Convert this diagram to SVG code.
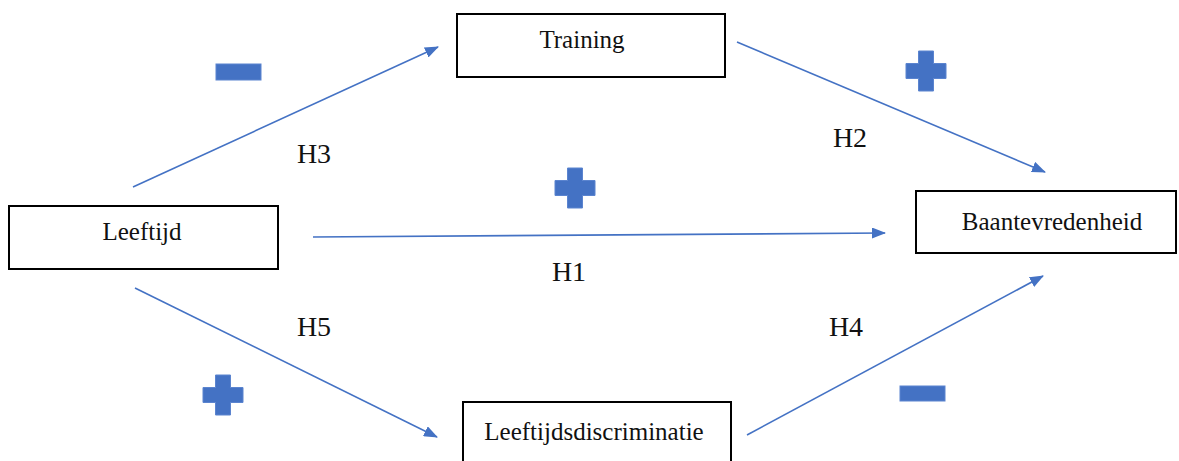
<svg xmlns="http://www.w3.org/2000/svg" width="1179" height="461" viewBox="0 0 1179 461">
<defs>
<style>
.node rect{fill:#fff;stroke:#000;stroke-width:2}
.node text{font-size:25px;fill:#111;text-anchor:middle}
.lbl{font-size:28px;fill:#111;text-anchor:middle}
.edge{stroke:#4472C4;stroke-width:1.6;fill:none;marker-end:url(#ah)}
.sign{fill:#4472C4;stroke:#5B84CF;stroke-width:1}
</style>
<marker id="ah" viewBox="0 0 14 11" refX="13" refY="5.5" markerWidth="14" markerHeight="11" markerUnits="userSpaceOnUse" orient="auto">
<path d="M0,0 L14,5.5 L0,11 z" fill="#4472C4"/>
</marker>
<path id="plus" d="M-7.5,-20 H7.5 V-7.5 H20 V7.5 H7.5 V20 H-7.5 V7.5 H-20 V-7.5 H-7.5 Z"/>
</defs>
<rect width="1179" height="461" fill="#fff"/>
<g id="connectors">
<line class="edge" x1="133" y1="187" x2="438" y2="47"/>
<line class="edge" x1="737" y1="42" x2="1045" y2="172"/>
<line class="edge" x1="313" y1="237" x2="885" y2="233"/>
<line class="edge" x1="135" y1="288" x2="437" y2="437"/>
<line class="edge" x1="747" y1="435" x2="1043" y2="276"/>
</g>
<g font-family="'Liberation Serif', 'DejaVu Serif', 'Times New Roman', serif">
<g id="node-training" class="node">
<rect x="457" y="14" width="268" height="63"/>
<text x="582" y="48">Training</text>
</g>
<g id="node-leeftijd" class="node">
<rect x="9" y="206" width="269" height="63"/>
<text x="142" y="240">Leeftijd</text>
</g>
<g id="node-baantevredenheid" class="node">
<rect x="916" y="191" width="260" height="62"/>
<text x="1052" y="230">Baantevredenheid</text>
</g>
<g id="node-leeftijdsdiscriminatie" class="node">
<rect x="463" y="402" width="268" height="70"/>
<text x="594" y="440">Leeftijdsdiscriminatie</text>
</g>
<g id="labels">
<text class="lbl" x="314" y="163">H3</text>
<text class="lbl" x="850" y="147">H2</text>
<text class="lbl" x="569" y="281">H1</text>
<text class="lbl" x="314" y="336">H5</text>
<text class="lbl" x="846" y="336">H4</text>
</g>
</g>
<g id="signs">
<rect class="sign" x="216" y="64" width="45" height="16"/>
<rect class="sign" x="900" y="386" width="45" height="15"/>
<use class="sign" href="#plus" x="926" y="71"/>
<use class="sign" href="#plus" x="575" y="188"/>
<use class="sign" href="#plus" x="223" y="395"/>
</g>
</svg>
